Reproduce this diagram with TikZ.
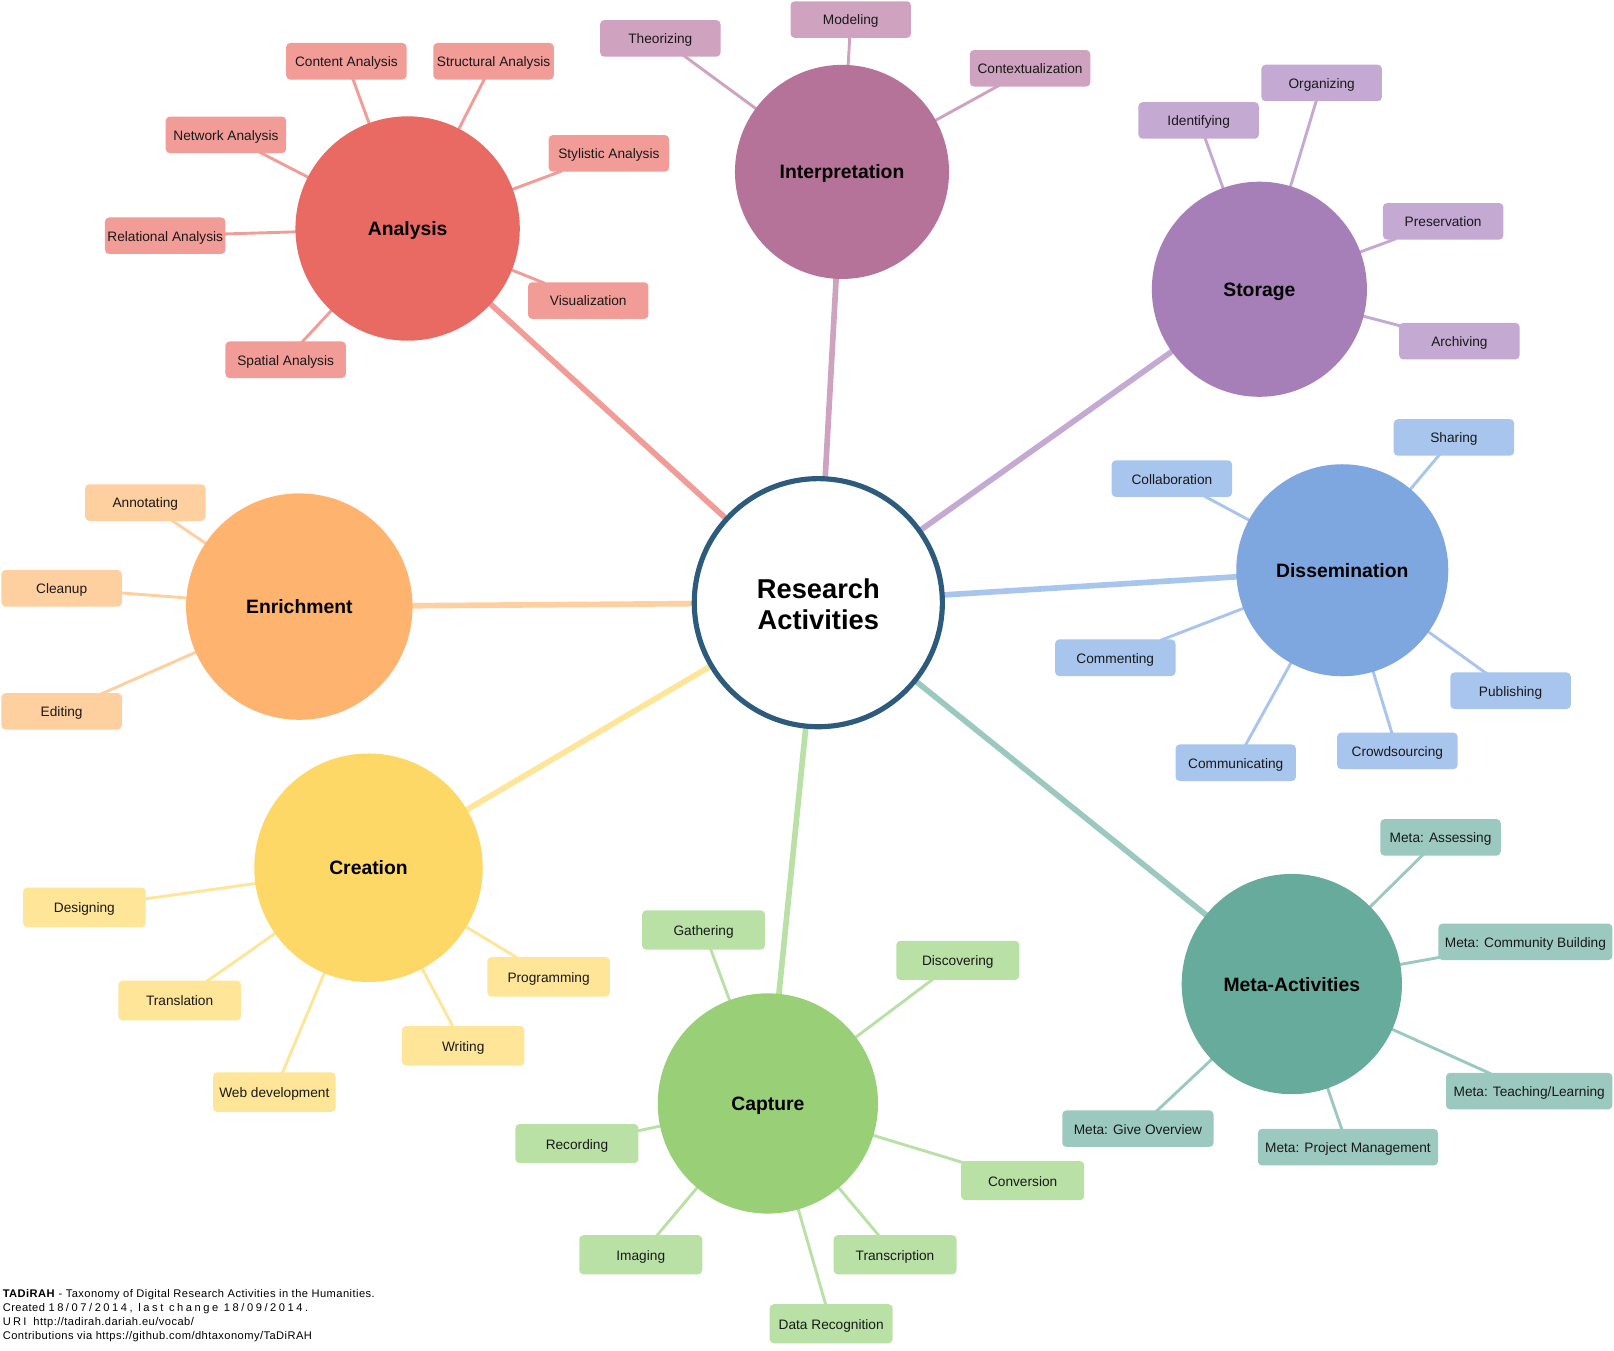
\documentclass[tikz,border=0pt]{standalone}
\usepackage{fontspec}
\setmainfont{Liberation Sans}
\usetikzlibrary{backgrounds}
\definecolor{ringC}{HTML}{2D5B7E}
\definecolor{anaC}{HTML}{E96A63}\definecolor{anaL}{HTML}{F29C97}
\definecolor{intC}{HTML}{B57399}\definecolor{intL}{HTML}{CFA2BF}
\definecolor{stoC}{HTML}{A67FB8}\definecolor{stoL}{HTML}{C4A9D3}
\definecolor{disC}{HTML}{7EA6DF}\definecolor{disL}{HTML}{A8C5EE}
\definecolor{metC}{HTML}{67AB9D}\definecolor{metL}{HTML}{9BC9BF}
\definecolor{capC}{HTML}{99CF76}\definecolor{capL}{HTML}{B9E1A6}
\definecolor{creC}{HTML}{FED867}\definecolor{creL}{HTML}{FEE597}
\definecolor{enrC}{HTML}{FEB36F}\definecolor{enrL}{HTML}{FECF9F}
\tikzset{
  hub/.style={circle, inner sep=0pt, text depth=0pt, text=black, font=\fontsize{18.8}{22}\selectfont\bfseries},
  leaf/.style={rectangle, rounded corners=4pt, minimum width=117pt, minimum height=35.5pt, inner sep=0pt,
    text height=10.5pt, text depth=0pt, text=black!90, font=\fontsize{13.3}{15}\selectfont},
  mainlink/.style={line width=5.5pt, shorten <=-3pt, shorten >=-3pt},
  leaflink/.style={line width=2.8pt, shorten <=-3pt, shorten >=-3pt},
}
\begin{document}
\begin{tikzpicture}[x=1pt,y=-1pt]
\useasboundingbox (0,0) rectangle (1568,1312);

% center
\node[circle, draw=ringC, line width=5pt, fill=white, minimum size=241pt, inner sep=0pt] (ra) at (795,585.5) {};
\node[align=center, inner sep=0pt, font=\fontsize{26.5}{31}\selectfont\bfseries] (ratext) at (795,587) {Research\\Activities};

% hubs
\node[hub, minimum size=218pt, fill=anaC] (ana) at (396,222) {Analysis};
\node[hub, minimum size=208pt, fill=intC] (int) at (818,167) {Interpretation};
\node[hub, minimum size=209pt, fill=stoC] (sto) at (1223.5,281) {Storage};
\node[hub, minimum size=206pt, fill=disC] (dis) at (1304,554) {Dissemination};
\node[hub, minimum size=214pt, fill=metC] (met) at (1255,956) {Meta-Activities};
\node[hub, minimum size=214pt, fill=capC] (cap) at (746,1072) {Capture};
\node[hub, minimum size=222pt, fill=creC] (cre) at (358,843) {Creation};
\node[hub, minimum size=220pt, fill=enrC] (enr) at (290.8,589.3) {Enrichment};

% analysis leaves
\node[leaf, fill=anaL] (ana1) at (336.5,59.5) {Content Analysis};
\node[leaf, fill=anaL] (ana2) at (479.5,59.5) {Structural Analysis};
\node[leaf, fill=anaL] (ana3) at (219.5,131) {Network Analysis};
\node[leaf, fill=anaL] (ana4) at (591.5,149) {Stylistic Analysis};
\node[leaf, fill=anaL] (ana5) at (160.5,229) {Relational Analysis};
\node[leaf, fill=anaL] (ana6) at (571.5,292) {Visualization};
\node[leaf, fill=anaL] (ana7) at (277.5,349.5) {Spatial Analysis};

% interpretation leaves
\node[leaf, fill=intL] (int1) at (641.5,37.3) {Theorizing};
\node[leaf, fill=intL] (int2) at (826.5,19) {Modeling};
\node[leaf, fill=intL] (int3) at (1000.7,66.4) {Contextualization};

% storage leaves
\node[leaf, fill=stoL] (sto1) at (1284,80.6) {Organizing};
\node[leaf, fill=stoL] (sto2) at (1164.5,117) {Identifying};
\node[leaf, fill=stoL] (sto3) at (1402,215) {Preservation};
\node[leaf, fill=stoL] (sto4) at (1417.8,331.4) {Archiving};

% dissemination leaves
\node[leaf, fill=disL] (dis1) at (1412.5,425) {Sharing};
\node[leaf, fill=disL] (dis2) at (1138.5,465) {Collaboration};
\node[leaf, fill=disL] (dis3) at (1083.5,639) {Commenting};
\node[leaf, fill=disL] (dis4) at (1467.5,671) {Publishing};
\node[leaf, fill=disL] (dis5) at (1357.5,729.5) {Crowdsourcing};
\node[leaf, fill=disL] (dis6) at (1200.5,741) {Communicating};

% meta leaves
\node[leaf, fill=metL] (met1) at (1399.5,813.5) {Meta: Assessing};
\node[leaf, fill=metL, minimum width=169pt] (met2) at (1481.9,915) {Meta: Community Building};
\node[leaf, fill=metL, minimum width=161.6pt] (met3) at (1485.6,1060) {Meta: Teaching/Learning};
\node[leaf, fill=metL, minimum width=147pt] (met4) at (1105.5,1096.5) {Meta: Give Overview};
\node[leaf, fill=metL, minimum width=175pt] (met5) at (1309.5,1114.5) {Meta: Project Management};

% capture leaves
\node[leaf, fill=capL, minimum width=119.5pt, minimum height=38pt] (cap1) at (683.5,903.5) {Gathering};
\node[leaf, fill=capL, minimum width=119.5pt, minimum height=38pt] (cap2) at (930.5,933) {Discovering};
\node[leaf, fill=capL, minimum width=119.5pt, minimum height=38pt] (cap3) at (560.5,1111) {Recording};
\node[leaf, fill=capL, minimum width=119.5pt, minimum height=38pt] (cap4) at (993.5,1147) {Conversion};
\node[leaf, fill=capL, minimum width=119.5pt, minimum height=38pt] (cap5) at (622.5,1219) {Imaging};
\node[leaf, fill=capL, minimum width=119.5pt, minimum height=38pt] (cap6) at (869.5,1219) {Transcription};
\node[leaf, fill=capL, minimum width=119.5pt, minimum height=38pt] (cap7) at (807.5,1286) {Data Recognition};

% creation leaves
\node[leaf, fill=creL, minimum width=119pt, minimum height=38.5pt] (cre1) at (82,881.5) {Designing};
\node[leaf, fill=creL, minimum width=119pt, minimum height=38.5pt] (cre2) at (174.5,972) {Translation};
\node[leaf, fill=creL, minimum width=119pt, minimum height=38.5pt] (cre3) at (533,949) {Programming};
\node[leaf, fill=creL, minimum width=119pt, minimum height=38.5pt] (cre4) at (450,1016) {Writing};
\node[leaf, fill=creL, minimum width=119pt, minimum height=38.5pt] (cre5) at (266.5,1061) {Web development};

% enrichment leaves
\node[leaf, fill=enrL] (enr1) at (141.2,488.2) {Annotating};
\node[leaf, fill=enrL] (enr2) at (59.9,571.6) {Cleanup};
\node[leaf, fill=enrL] (enr3) at (59.9,691.1) {Editing};

% footer
\node[anchor=north west, inner sep=0pt, align=left, font=\fontsize{10.8}{13.6}\selectfont\addfontfeature{LetterSpace=4}] (foot) at (2.5,1252)
 {\textbf{TADiRAH} - Taxonomy of Digital Research Activities in the Humanities.\\
  Created {\addfontfeature{LetterSpace=23}18/07/2014, last change 18/09/2014.}\\
  {\addfontfeature{LetterSpace=20}URI}\ \ http://tadirah.dariah.eu/vocab/\\
  Contributions via https://github.com/dhtaxonomy/TaDiRAH};

\begin{pgfonlayer}{background}
\fill[white] (0,0) rectangle (1568,1312);
\draw[mainlink, anaL] (ra) -- (ana);
\draw[mainlink, intL] (ra) -- (int);
\draw[mainlink, stoL] (ra) -- (sto);
\draw[mainlink, disL] (ra) -- (dis);
\draw[mainlink, metL] (ra) -- (met);
\draw[mainlink, capL] (ra) -- (cap);
\draw[mainlink, creL] (ra) -- (cre);
\draw[mainlink, enrL] (ra) -- (enr);
\foreach \i in {1,...,7} \draw[leaflink, anaL] (ana\i) -- (ana);
\foreach \i in {1,...,3} \draw[leaflink, intL] (int\i) -- (int);
\foreach \i in {1,...,4} \draw[leaflink, stoL] (sto\i) -- (sto);
\foreach \i in {1,...,6} \draw[leaflink, disL] (dis\i) -- (dis);
\foreach \i in {1,...,5} \draw[leaflink, metL] (met\i) -- (met);
\foreach \i in {1,...,7} \draw[leaflink, capL] (cap\i) -- (cap);
\foreach \i in {1,...,5} \draw[leaflink, creL] (cre\i) -- (cre);
\foreach \i in {1,...,3} \draw[leaflink, enrL] (enr\i) -- (enr);
\end{pgfonlayer}
\end{tikzpicture}
\end{document}
